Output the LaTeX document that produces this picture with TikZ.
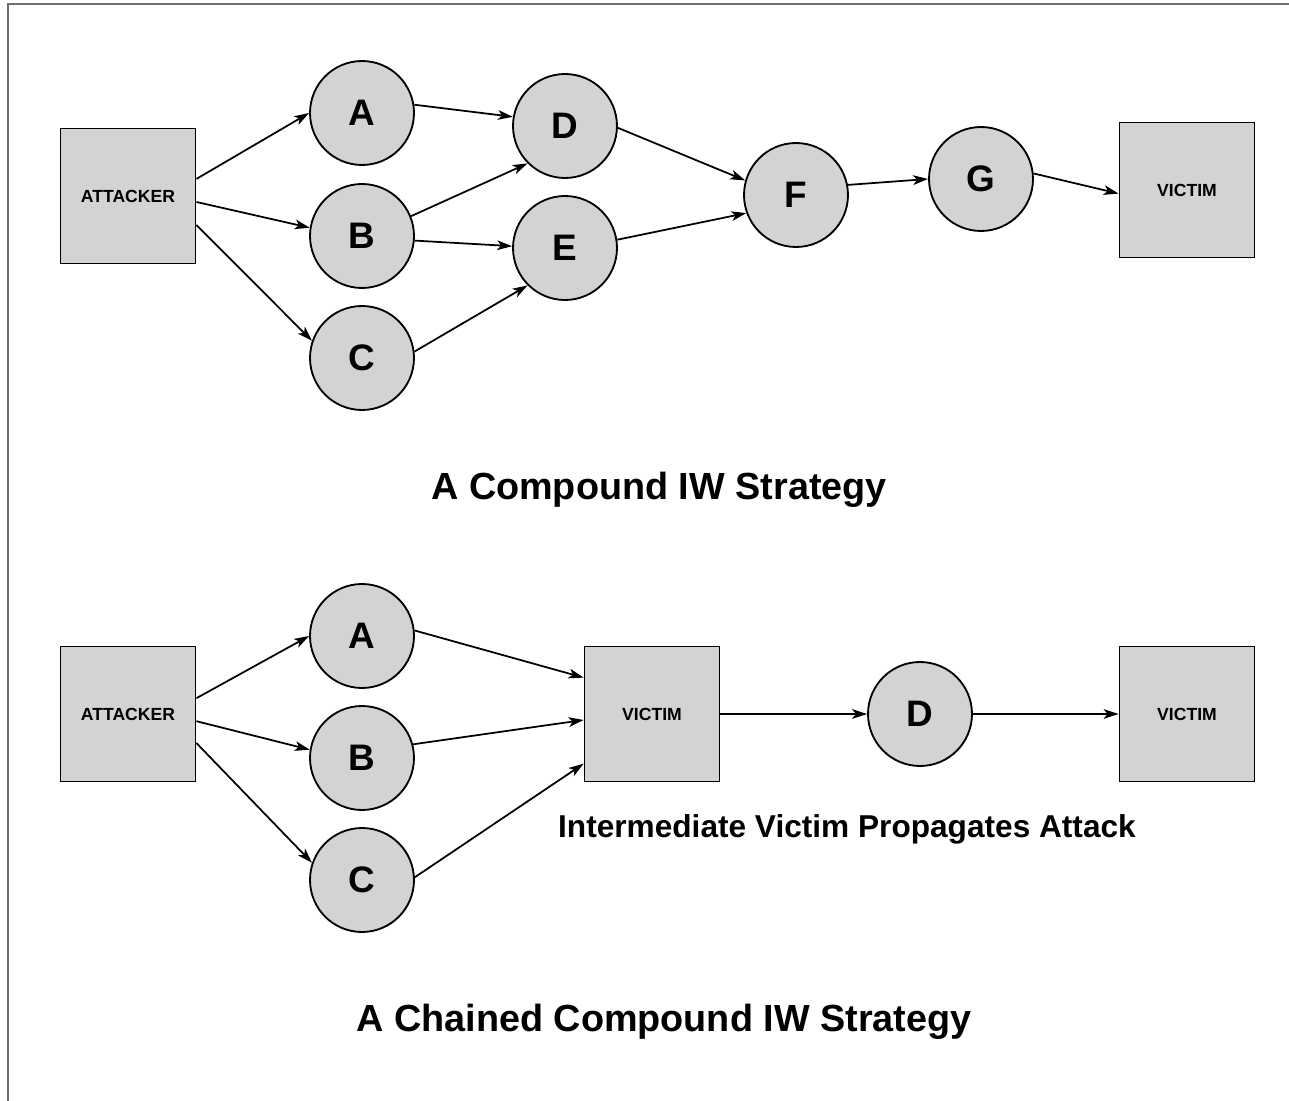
\documentclass[tikz,border=0pt]{standalone}
\usepackage{fontspec}
\setmainfont{Liberation Sans}
\usepackage{xcolor}
\usetikzlibrary{arrows.meta}

\definecolor{nodegray}{RGB}{211,211,211}
\definecolor{framegray}{RGB}{110,110,110}

\begin{document}
\begin{tikzpicture}[
    x=0.02cm, y=-0.02cm,
    hostbox/.style={
        rectangle,
        minimum size=2.7cm,
        draw=black, line width=1.05pt, fill=nodegray,
        font=\fontsize{10}{12}\selectfont\bfseries
    },
    relay/.style={
        circle,
        minimum size=2.08cm, inner sep=0pt,
        draw=black, line width=1.05pt, fill=nodegray,
        font=\fontsize{21}{24}\selectfont\bfseries
    },
    caption/.style={font=\fontsize{21.5}{25}\selectfont\bfseries},
    arrow/.style={->, line width=1pt, >={Stealth[length=8.5pt,width=5.5pt,inset=2.2pt]}}
]
\useasboundingbox (0,0) rectangle (1289,1101);
\draw[framegray, line width=0.9pt] (8,1101) -- (8,4) -- (1289,4);

% --- TOP: compound strategy ---
\node[hostbox] (att1) at (128,196) {ATTACKER};
\node[relay] (a1) at (362,113) {A};
\node[relay] (b1) at (362,236) {B};
\node[relay] (c1) at (362,358) {C};
\node[relay] (d1) at (565,126) {D};
\node[relay] (e1) at (565,248) {E};
\node[relay] (f1) at (796,195) {F};
\node[relay] (g1) at (981,179) {G};
\node[hostbox] (v1) at (1187,190) {VICTIM};
\node[caption] (t1) at (659,490) {A Compound IW Strategy};

% 1. Attacker -> A, B, C
\draw[arrow] (att1.14) -- (a1.180);
\draw[arrow] (att1.-5) -- (b1.171);
\draw[arrow] (att1.-23) -- (c1.161);

% 2. A, B, C -> D, E
\draw[arrow] (a1.9) -- (d1.170);
\draw[arrow] (b1.22) -- (d1.225);
\draw[arrow] (b1.-5) -- (e1.178);
\draw[arrow] (c1.7) -- (e1.225);

% 3. D, E -> F -> G -> Victim
\draw[arrow] (d1.-2) -- (f1.164);
\draw[arrow] (e1.9) -- (f1.200);
\draw[arrow] (f1.11) -- (g1.180);
\draw[arrow] (g1.6) -- (v1.183);

% --- BOTTOM: chained compound strategy ---
\node[hostbox] (att2) at (128,714) {ATTACKER};
\node[relay] (a2) at (362,636) {A};
\node[relay] (b2) at (362,758) {B};
\node[relay] (c2) at (362,880) {C};
\node[hostbox] (mid) at (652,714) {VICTIM};
\node[relay] (d2) at (920,714) {D};
\node[hostbox] (v2) at (1187,714) {VICTIM};
\node[font=\fontsize{18}{21}\selectfont\bfseries] (prop) at (847,829) {Intermediate Victim Propagates Attack};
\node[caption] (t2) at (664,1022) {A Chained Compound IW Strategy};

% 1. Attacker -> A, B, C
\draw[arrow] (att2.13) -- (a2.180);
\draw[arrow] (att2.-6) -- (b2.171);
\draw[arrow] (att2.-23) -- (c2.161);

% 2. A, B, C -> intermediate victim
\draw[arrow] (a2.6) -- (mid.152);
\draw[arrow] (b2.15) -- (mid.185);
\draw[arrow] (c2.3) -- (mid.216);

% 3. Intermediate victim -> D -> Victim
\draw[arrow] (mid) -- (d2);
\draw[arrow] (d2) -- (v2);

\end{tikzpicture}
\end{document}
